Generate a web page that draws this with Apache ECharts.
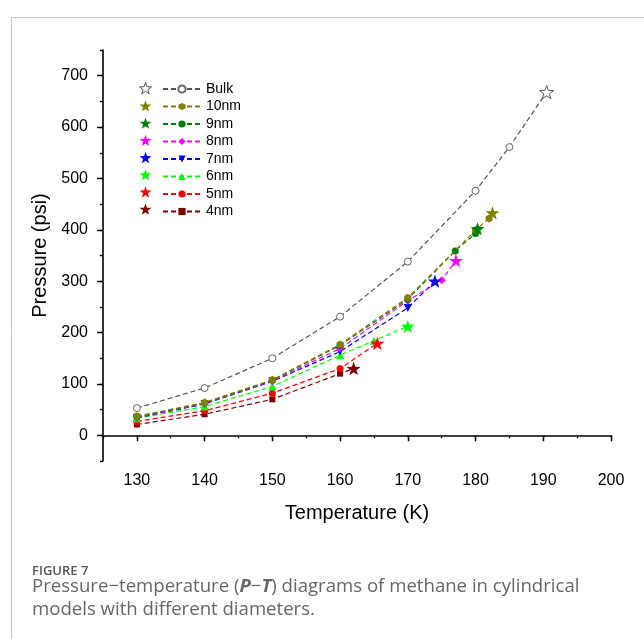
<!DOCTYPE html>
<html>
<head>
<meta charset="utf-8">
<script src="https://cdn.jsdelivr.net/npm/echarts@6/dist/echarts.min.js"></script>
<style>
  html, body { margin: 0; padding: 0; background: #fff; }
  #chart { width: 644px; height: 639px; }
</style>
</head>
<body>
<div id="chart"></div>
<script>
// tick labels
const xMajorTicks = [130, 140, 150, 160, 170, 180, 190, 200];
const yMajorTicks = [0, 100, 200, 300, 400, 500, 600, 700];

// legend / series names
const seriesNames = ["Bulk", "10nm", "9nm", "8nm", "7nm", "6nm", "5nm", "4nm"];

// P-T curves (temperature K, pressure psi)
const bulkT = [130, 140, 150, 160, 170, 180, 185];
const bulkP = [53, 92, 150, 231, 338, 476, 561];
const nm10T = [130, 140, 150, 160, 170, 180, 182];
const nm10P = [37, 64, 108, 177, 268, 399, 422];
const nm9T = [130, 140, 150, 160, 170, 177, 180];
const nm9P = [36, 63, 107, 175, 265, 359, 393];
const nm8T = [130, 140, 150, 160, 170, 175];
const nm8P = [35, 62, 106, 169, 262, 302];
const nm7T = [130, 140, 150, 160, 170];
const nm7P = [34, 61, 105, 163, 248];
const nm6T = [130, 140, 150, 160, 165];
const nm6P = [33, 56, 95, 156, 184];
const nm5T = [130, 140, 150, 160];
const nm5P = [27, 48, 82, 130];
const nm4T = [130, 140, 150, 160];
const nm4P = [21, 41, 70, 120];

// critical points (stars), same order as seriesNames
const critT = [190.5, 182.5, 180.3, 177.1, 174.0, 170.0, 165.5, 162.0];
const critP = [668, 433, 402, 340, 300, 212, 179, 130];

const curveT = [bulkT, nm10T, nm9T, nm8T, nm7T, nm6T, nm5T, nm4T];
const curveP = [bulkP, nm10P, nm9P, nm8P, nm7P, nm6P, nm5P, nm4P];

const colors = ["#555555", "#808000", "#008000", "#ff00ff", "#0000ff", "#00ff00", "#ff0000", "#800000"];
const STAR = "path://M0,-10L2.35,-3.24L9.51,-3.09L3.8,1.24L5.88,8.09L0,4L-5.88,8.09L-3.8,1.24L-9.51,-3.09L-2.35,-3.24Z";
const HEX = "path://M0,-1L0.866,-0.5L0.866,0.5L0,1L-0.866,0.5L-0.866,-0.5Z";
const markers = ["circle", HEX, "circle", "diamond", "triangle", "triangle", "circle", "rect"];
const markerRotate = [0, 0, 0, 0, 180, 0, 0, 0];
const markerSize = [7, 8, 7, 8, 8, 8, 7, 6];

const FONT = "'Liberation Sans', Arial, sans-serif";
const CAPFONT = "'Open Sans', sans-serif";

function starStyle(i) {
  return i === 0
    ? { color: "#ffffff", borderColor: "#555", borderWidth: 1, opacity: 1 }
    : { color: colors[i], borderWidth: 0, opacity: 1 };
}

const lineSeries = seriesNames.map((name, i) => {
  const pts = curveT[i].map((t, j) => [t, curveP[i][j]]);
  pts.push({ value: [critT[i], critP[i]], symbol: "none" });
  return {
    name: name,
    type: "line",
    data: pts,
    symbol: markers[i],
    symbolSize: markerSize[i],
    symbolRotate: markerRotate[i],
    symbolKeepAspect: true,
    lineStyle: { color: colors[i], width: 1.2, type: [5, 3] },
    itemStyle: i === 0
      ? { color: "#ffffff", borderColor: "#666", borderWidth: 1 }
      : { color: colors[i], borderWidth: 0 },
    z: 2 + (seriesNames.length - i) * 0.01,
    animation: false
  };
});

const starSeries = seriesNames.map((name, i) => ({
  name: name + " Tc",
  type: "scatter",
  data: [[critT[i], critP[i]]],
  symbol: STAR,
  symbolSize: 14,
  symbolKeepAspect: true,
  itemStyle: starStyle(i),
  z: 4,
  animation: false
}));

const chart = echarts.init(document.getElementById("chart"));
chart.setOption({
  backgroundColor: "#ffffff",
  animation: false,
  textStyle: { fontFamily: FONT },
  grid: { left: 103, right: 33, top: 50, bottom: 178 },
  legend: [
    {
      data: starSeries.map((s, i) => ({ name: s.name, icon: STAR, itemStyle: starStyle(i) })),
      formatter: () => "",
      orient: "vertical",
      left: 134,
      top: 77,
      padding: 5,
      itemWidth: 12,
      itemHeight: 12,
      itemGap: 5.5,
      selectedMode: false,
      textStyle: { fontSize: 14, fontFamily: FONT }
    },
    {
      data: seriesNames,
      orient: "vertical",
      left: 157,
      top: 77,
      padding: 5,
      itemWidth: 38,
      itemHeight: 9,
      itemGap: 3.5,
      selectedMode: false,
      textStyle: { fontSize: 14, color: "#000", fontFamily: FONT }
    }
  ],
  xAxis: [
    {
      type: "value",
      min: 125,
      max: 200,
      interval: 5,
      name: "Temperature (K)",
      nameLocation: "middle",
      nameGap: 42,
      nameTextStyle: { fontSize: 20, color: "#000", fontFamily: FONT },
      axisLine: { lineStyle: { color: "#000", width: 1.6 } },
      axisTick: { length: 3, lineStyle: { color: "#000", width: 1.4 } },
      axisLabel: {
        fontSize: 16,
        color: "#000",
        fontFamily: FONT,
        margin: 12,
        formatter: v => (xMajorTicks.indexOf(v) >= 0 ? String(v) : "")
      },
      splitLine: { show: false }
    },
    {
      type: "value",
      min: 125,
      max: 200,
      position: "bottom",
      axisLine: { show: false },
      axisTick: { show: true, customValues: xMajorTicks, length: 6, lineStyle: { color: "#000", width: 1.4 } },
      axisLabel: { show: false },
      splitLine: { show: false }
    }
  ],
  yAxis: [
    {
      type: "value",
      min: -50,
      max: 750,
      interval: 50,
      name: "Pressure (psi)",
      nameLocation: "middle",
      nameGap: 45,
      nameTextStyle: { fontSize: 20, color: "#000", fontFamily: FONT },
      axisLine: { show: true, lineStyle: { color: "#000", width: 1.6 } },
      axisTick: { show: true, length: 3, lineStyle: { color: "#000", width: 1.4 } },
      axisLabel: {
        fontSize: 16,
        color: "#000",
        fontFamily: FONT,
        margin: 15,
        formatter: v => (yMajorTicks.indexOf(v) >= 0 ? String(v) : "")
      },
      splitLine: { show: false }
    },
    {
      type: "value",
      min: -50,
      max: 750,
      position: "left",
      axisLine: { show: false },
      axisTick: { show: true, customValues: yMajorTicks, length: 6, lineStyle: { color: "#000", width: 1.4 } },
      axisLabel: { show: false },
      splitLine: { show: false }
    }
  ],
  graphic: [
    {
      type: "rect",
      left: 9,
      top: 15,
      shape: { width: 1000, height: 1000 },
      style: { fill: "none", stroke: "#c8c8c8", lineWidth: 1 },
      silent: true
    },
    {
      type: "text",
      left: 32,
      top: 565,
      style: { text: "FIGURE 7", font: "600 13px " + CAPFONT, fill: "#555" }
    },
    {
      type: "text",
      left: 32,
      top: 575,
      style: {
        text: "Pressure\u2212temperature ({b|P}\u2212{b|T}) diagrams of methane in cylindrical\nmodels with different diameters.",
        font: "18.6px " + CAPFONT,
        fill: "#666",
        lineHeight: 23,
        rich: {
          b: { font: "italic bold 18.6px " + CAPFONT, fill: "#666", lineHeight: 23 }
        }
      }
    }
  ],
  series: lineSeries.concat(starSeries)
});
</script>
</body>
</html>
